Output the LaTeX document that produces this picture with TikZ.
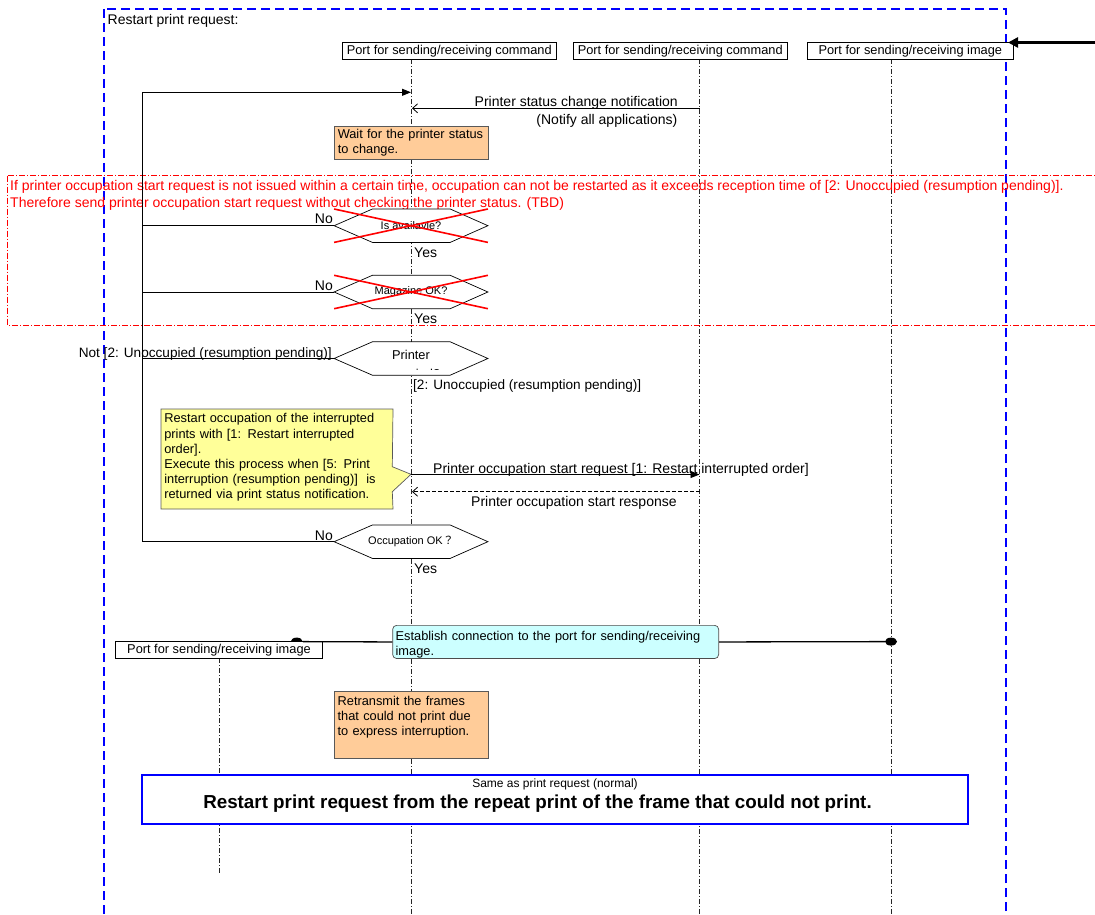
\documentclass[tikz,border=0pt]{standalone}
\usepackage{fontspec}
\setmainfont{Liberation Sans}
\newfontfamily\cjkfont{Noto Sans CJK JP}
\usetikzlibrary{arrows.meta,backgrounds,shapes.geometric}

\definecolor{peach}{HTML}{FFCC99}
\definecolor{noteyellow}{HTML}{FFFF99}
\definecolor{lightcyan}{HTML}{CCFFFF}
\definecolor{framblue}{HTML}{0000FF}
\definecolor{warnred}{HTML}{FF0000}

% hexagonal decision: invisible frame node, hexagon outline, text on top
\newcommand\decision[3]{%
  \node[hexframe] (#1) at (411,#2) {};
  \draw[hexline] (#1.west) -- ([xshift=38.3pt]#1.north west) -- ([xshift=-37.7pt]#1.north east)
    -- (#1.east) -- ([xshift=-37.7pt]#1.south east) -- ([xshift=38.3pt]#1.south west) -- cycle;
  \node[hextext] (#1-text) at (#1.center) {#3};
}

\begin{document}
\begin{tikzpicture}[x=1pt,y=-1pt,
  every node/.style={font=\fontsize{12.8}{15}\selectfont, inner sep=0pt},
  lbl/.style={font=\fontsize{14}{16}\selectfont},
  frame/.style={draw=framblue, line width=2pt, dash pattern=on 9pt off 5pt},
  lifeline/.style={draw=black!85, line width=0.75pt, dash pattern=on 5pt off 2pt on 1pt off 2pt},
  portbox/.style={draw=black, fill=white, line width=0.7pt, minimum height=16.6pt},
  msg/.style={line width=0.8pt, -{Triangle[length=9pt,width=7pt]}},
  reply/.style={line width=0.8pt, -{Straight Barb[length=5pt,width=9pt]}},
  hexframe/.style={minimum width=153.4pt, minimum height=33pt},
  hexline/.style={draw=black, fill=white, line width=0.7pt},
  hextext/.style={font=\fontsize{11}{13}\selectfont},
  cross/.style={draw=warnred, line width=1.6pt},
  textbox/.style={draw=black!65, line width=0.7pt, anchor=north west, align=left, inner xsep=3pt, inner ysep=0pt},
  dot/.style={ellipse, fill=black, minimum width=12pt, minimum height=8pt},
]
\useasboundingbox (0,0) rectangle (1095,915);
\clip (0,0) rectangle (1095,915);

% lifelines
\coordinate (a0) at (411,59.3);   \coordinate (a1) at (411,930);
\coordinate (b0) at (699.5,59.3); \coordinate (b1) at (699.5,930);
\coordinate (c0) at (891,59.3);   \coordinate (c1) at (891,930);
\coordinate (d0) at (219,658.3);  \coordinate (d1) at (219,875);
\draw[lifeline] (a0) -- (a1);
\draw[lifeline] (b0) -- (b1);
\draw[lifeline] (c0) -- (c1);
\draw[lifeline] (d0) -- (d1);

% outer frame
\draw[frame] (104,9) rectangle (1006,940);
\node[lbl, anchor=base west] (title) at (107.5,25) {Restart print request:};

% lifeline heads
\node[portbox, minimum width=213.5pt] (cmdA) at (449.2,51) {Port for sending/receiving command};
\node[portbox, minimum width=214.5pt] (cmdB) at (680.2,51) {Port for sending/receiving command};
\node[portbox, minimum width=206.7pt] (imgB) at (910.3,51) {Port for sending/receiving image};

% incoming call
\coordinate (feed) at (1100,42.5);
\coordinate (feedtip) at (1008,42.5);
\draw[line width=3pt, -{Triangle[length=10pt,width=10pt]}] (feed) -- (feedtip);

% status change notification
\coordinate (bN) at (699.5,108.3);
\coordinate (aN) at (412,108.3);
\draw[reply] (bN) -- (aN);
\node[lbl, anchor=base east] (notifyA) at (678,106.5) {Printer status change notification};
\node[lbl, anchor=base east] (notifyB) at (677.5,124.5) {(Notify all applications)};

\node[textbox, fill=peach, text width=147.3pt, text height=12.6pt, text depth=21pt] (wait) at (334.4,125.7)
  {Wait for the printer status\\to change.};

% pending remark
\draw[draw=warnred, line width=0.7pt, dash pattern=on 6pt off 2pt on 1pt off 2pt] (7.7,175.7) rectangle (1110,325);
\node[lbl, anchor=base west, text=warnred] (warn1) at (10,190.4)
  {If printer occupation start request is not issued within a certain time, occupation can not be restarted as it exceeds reception time of [2: Unoccupied (resumption pending)].};
\node[lbl, anchor=base west, text=warnred] (warn2) at (10,207.4)
  {Therefore send printer occupation start request without checking the printer status. (TBD)};

% decisions
\decision{avail}{225.7}{Is availavle?}
\draw[cross] (avail.north west) -- (avail.south east);
\draw[cross] (avail.south west) -- (avail.north east);
\node[lbl, anchor=base east] (noA) at (333,223.5) {No};
\node[lbl, anchor=base west] (yesA) at (414,257) {Yes};

\decision{magaz}{292}{Magazine OK?}
\draw[cross] (magaz.north west) -- (magaz.south east);
\draw[cross] (magaz.south west) -- (magaz.north east);
\node[lbl, anchor=base east] (noB) at (333,290) {No};
\node[lbl, anchor=base west] (yesB) at (414,323.3) {Yes};

\decision{occst}{358.5}{}
\begin{scope}
  \clip (334,342) rectangle (488,369.3);
  \node[align=center, font=\fontsize{12.8}{19}\selectfont] (occst-label) at (411,365.5) {Printer\\occupied?};
\end{scope}
\node[font=\fontsize{13.6}{16}\selectfont, anchor=base east] (notUnocc) at (332,357.5) {Not [2: Unoccupied (resumption pending)]};
\node[font=\fontsize{13.6}{16}\selectfont, anchor=base west] (unocc) at (413,389.8) {[2: Unoccupied (resumption pending)]};

% remark with pointer
\node[textbox, draw=none, font=\fontsize{12.8}{15.2}\selectfont, text width=225.3pt, text height=13.5pt, text depth=85.8pt] (note) at (161,409)
  {Restart occupation of the interrupted\\prints with [1: Restart interrupted\\order].\\Execute this process when [5: Print\\interruption (resumption pending)]\ \ is\\returned via print status notification.};
\coordinate (notePtA) at (392.3,466.7);
\coordinate (noteTip) at (411,474.3);
\coordinate (notePtB) at (392.3,491.7);
\begin{scope}[on background layer]
  \draw[draw=black!65, line width=0.7pt, fill=noteyellow] (note.north west) -- (note.north east) -- (notePtA)
    -- (noteTip) -- (notePtB) -- (note.south east) -- (note.south west) -- cycle;
\end{scope}

% occupation request / response
\coordinate (aR) at (411,474.5);  \coordinate (bR) at (699.5,474.5);
\coordinate (bS) at (699.5,491.7); \coordinate (aS) at (412,491.7);
\draw[msg] (aR) -- (bR);
\draw[reply, dash pattern=on 4pt off 2pt] (bS) -- (aS);
\node[lbl, anchor=base west] (reqlbl) at (433,473) {Printer occupation start request [1: Restart interrupted order]};
\node[lbl, anchor=base west] (reslbl) at (471,506.5) {Printer occupation start response};

\decision{occok}{541.7}{Occupation OK{\cjkfont ？}}
\node[lbl, anchor=base east] (noD) at (333,540.2) {No};
\node[lbl, anchor=base west] (yesD) at (414,573.3) {Yes};

% retry loop
\coordinate (loopBot) at (142,541.7);
\coordinate (loopTop) at (142,92.3);
\coordinate (aLoop) at (411,92.3);
\draw[msg] (occok.west) -- (loopBot) -- (loopTop) -- (aLoop);
\draw[line width=0.8pt] (avail.west) -- (avail.west -| loopTop);
\draw[line width=0.8pt] (magaz.west) -- (magaz.west -| loopTop);
\draw[line width=0.8pt] (occst.west) -- (occst.west -| loopTop);

% image port connection
\node[dot] (dotL) at (296.7,641.6) {};
\node[dot] (dotR) at (891,641.6) {};
\node[portbox, minimum width=206.6pt] (imgA) at (219,650) {Port for sending/receiving image};
\node[textbox, draw=black!70, fill=lightcyan, rounded corners=4pt, text width=320pt, text height=15pt, text depth=18.2pt] (estab) at (392.3,625)
  {Establish connection to the port for sending/receiving\\image.};
\draw[line width=1.3pt] (dotL) -- (estab.west);
\draw[line width=1.3pt] (estab.east) -- (dotR);

\node[textbox, fill=peach, text width=147.4pt, text height=14pt, text depth=52.7pt] (resend) at (334.3,691)
  {Retransmit the frames\\that could not print due\\to express interruption.};

% continuation
\node[draw=framblue, line width=2pt, fill=white, minimum width=826pt, minimum height=49.3pt] (same) at (555,799.6) {};
\node[font=\fontsize{12}{13}\selectfont] (sameSmall) at (555,784) {Same as print request (normal)};
\node[font=\fontsize{18.8}{21}\selectfont\bfseries] (sameBig) at (537.5,803.3)
  {Restart print request from the repeat print of the frame that could not print.};
\end{tikzpicture}
\end{document}
